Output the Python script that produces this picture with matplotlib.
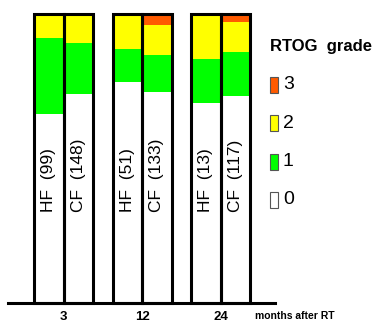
import numpy as np
import matplotlib
matplotlib.use('Agg')
from matplotlib import pyplot as plt
from matplotlib.patches import Rectangle

plt.rcParams['font.family'] = ['Liberation Sans', 'DejaVu Sans']

months = ['3', '12', '24']
arms = ['HF', 'CF']
n_pat = [99, 148, 51, 133, 13, 117]   # HF3, CF3, HF12, CF12, HF24, CF24
# % of patients per RTOG grade
g0 = [65.5, 72.3, 76.5, 73.0, 69.2, 71.6]
g1 = [26.2, 17.5, 11.5, 12.7, 15.3, 15.3]
g2 = [8.3, 10.2, 12.0, 10.5, 15.5, 10.4]
g3 = [0.0, 0.0, 0.0, 3.8, 0.0, 2.7]
grades = ['0', '1', '2', '3']
colors = ['#ffffff', '#00ff00', '#ffff00', '#ff5a00']

W, H = 379, 323
fig = plt.figure(figsize=(W / 100, H / 100), dpi=100)
ax = fig.add_axes([8 / W, 20 / H, 267 / W, 289 / H])

width = 0.376
grp = np.arange(len(months))
xs = np.array([[g - width / 2, g + width / 2] for g in grp]).flatten()
labels = [a for m in months for a in arms]

bottom = np.zeros(len(xs))
for vals, c in zip([g0, g1, g2, g3], colors):
    ax.bar(xs, vals, width, bottom=bottom, color=c, edgecolor='none')
    bottom += np.array(vals)
ax.bar(xs, [100] * len(xs), width, color='none', edgecolor='black',
       linewidth=2.2, clip_on=False)

for x, lab, n in zip(xs, labels, n_pat):
    ax.text(x, 31.5, f'{lab}  ({n})', rotation=90, ha='center', va='bottom',
            fontsize=12.5)

ax.set_xlim(-0.707, 2.69)
ax.set_ylim(0, 100)
ax.set_yticks([])
ax.set_xticks(grp, months, fontsize=9.5, fontweight='bold')
ax.tick_params(axis='x', length=0, pad=5.5)
for s in ['left', 'right', 'top']:
    ax.spines[s].set_visible(False)
ax.spines['bottom'].set_linewidth(2.2)

fig.text(255 / W, 1 - 316 / H, 'months after RT', fontsize=7.5,
         fontweight='bold', va='center', ha='left')

# legend
fig.text(270 / W, 1 - 47 / H, 'RTOG  grade', fontsize=12, fontweight='bold',
         va='center', ha='left')
ys = [200, 162, 123, 85]
for y, g, c in zip(ys, grades, colors):
    fig.add_artist(Rectangle((270 / W, 1 - (y + 8) / H), 8 / W, 16 / H,
                             facecolor=c, edgecolor='#555555', linewidth=0.8,
                             transform=fig.transFigure))
    fig.text(283 / W, 1 - y / H, g, fontsize=14, va='center', ha='left')

plt.savefig('out.png', dpi=100)
